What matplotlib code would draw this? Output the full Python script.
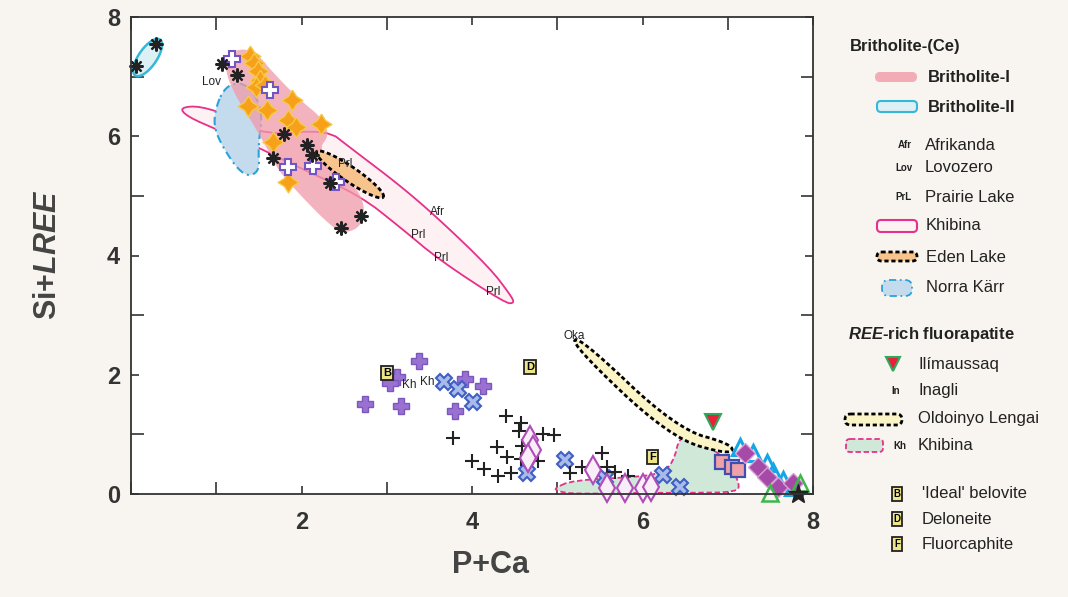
import numpy as np
import matplotlib
matplotlib.use("Agg")
import matplotlib.pyplot as plt
from matplotlib.patches import Polygon, FancyBboxPatch
from matplotlib.ticker import MultipleLocator

plt.rcParams['font.family'] = ['Liberation Sans', 'DejaVu Sans']
plt.rcParams['mathtext.fontset'] = 'custom'
plt.rcParams['mathtext.it'] = 'Liberation Sans:italic:bold'
plt.rcParams['mathtext.rm'] = 'Liberation Sans:bold'

# ---- britholite points
asterisk_x = [0.06, 0.29, 1.07, 1.24, 1.79, 2.06, 2.12, 1.67, 2.33, 2.70, 2.46]
asterisk_y = [7.18, 7.55, 7.21, 7.03, 6.04, 5.85, 5.68, 5.63, 5.22, 4.66, 4.46]
open_plus_x = [1.19, 1.63, 1.84, 2.13, 2.40]
open_plus_y = [7.30, 6.77, 5.49, 5.50, 5.24]
orange_x = [1.40, 1.44, 1.49, 1.51, 1.47, 1.57, 1.37, 1.59, 1.89, 1.84, 1.94, 2.23, 1.67, 1.84]
orange_y = [7.35, 7.23, 7.10, 6.95, 6.83, 6.86, 6.51, 6.44, 6.60, 6.28, 6.16, 6.21, 5.91, 5.24]

# ---- fluorapatite points
pplus_x = [3.38, 3.12, 3.04, 2.74, 3.17, 3.92, 4.13, 3.80]
pplus_y = [2.23, 1.96, 1.86, 1.51, 1.48, 1.93, 1.81, 1.39]
bluex_x = [3.67, 3.84, 4.01, 4.65, 5.09, 5.56, 6.24, 6.44]
bluex_y = [1.88, 1.76, 1.54, 0.35, 0.57, 0.27, 0.32, 0.12]
plus_x = [3.78, 4.40, 4.57, 4.55, 4.59, 4.83, 4.96, 4.29, 4.41, 4.57, 4.77, 4.00,
          4.14, 4.30, 4.46, 5.52, 5.29, 5.15, 5.58, 5.68, 5.83]
plus_y = [0.94, 1.31, 1.19, 1.06, 0.81, 1.01, 0.99, 0.79, 0.62, 0.59, 0.55, 0.55,
          0.42, 0.30, 0.35, 0.68, 0.45, 0.35, 0.45, 0.37, 0.30]
odiam_x = [4.68, 4.72, 4.66, 5.42, 5.58, 5.80, 6.00, 6.10]
odiam_y = [0.91, 0.74, 0.60, 0.40, 0.10, 0.10, 0.10, 0.12]
square_x = [6.93, 7.05, 7.12]
square_y = [0.54, 0.45, 0.40]
mdiam_x = [7.20, 7.35, 7.46, 7.59, 7.77]
mdiam_y = [0.69, 0.45, 0.29, 0.12, 0.18]
ctri_x = [7.14, 7.30, 7.46, 7.53, 7.65, 7.77]
ctri_y = [0.79, 0.69, 0.52, 0.37, 0.23, 0.12]
gtri_x = [7.50, 7.85]
gtri_y = [0.02, 0.18]
star_xy = (7.82, 0.0)
ilim_xy = (6.83, 1.21)
boxes = {'B': (3.00, 2.03), 'D': (4.68, 2.13), 'F': (6.12, 0.62)}

# ---- fields (outlines in data units)
brith1 = [(1.14, 7.42), (1.42, 7.48), (1.69, 7.03), (1.98, 6.61), (2.24, 6.31), (2.33, 6.02),
          (2.19, 5.77), (2.51, 5.35), (2.74, 4.93), (2.72, 4.51), (2.51, 4.36), (2.33, 4.51),
          (1.98, 5.02), (1.72, 5.44), (1.61, 5.77), (1.40, 6.28), (1.22, 6.69), (1.10, 7.11)]
khib_brith = [(0.57, 6.48), (0.81, 6.51), (1.22, 6.31), (1.57, 6.02), (2.30, 6.11), (2.57, 5.81),
              (3.16, 5.17), (3.62, 4.60), (4.21, 3.79), (4.45, 3.34), (4.50, 3.20), (4.39, 3.20),
              (3.62, 3.92), (3.16, 4.47), (2.69, 5.00), (1.98, 5.47), (1.48, 5.82), (1.01, 6.11),
              (0.66, 6.33)]
norra = [(1.10, 6.86), (0.96, 6.33), (1.02, 5.94), (1.31, 5.32), (1.51, 5.39), (1.49, 5.82),
         (1.55, 6.44), (1.36, 6.90)]
khib_apat = [(4.97, 0.10), (5.18, 0.23), (5.97, 0.29), (6.21, 0.35), (6.36, 0.52), (6.44, 0.99),
             (6.64, 0.91), (6.83, 0.74), (6.99, 0.57), (7.14, 0.18), (7.11, 0.03), (6.56, 0.02),
             (5.97, 0.02), (5.18, 0.00), (5.00, 0.05)]
brith2_ends = [(0.05, 7.02), (0.34, 7.62)]
eden_ends = [(2.18, 5.74), (2.96, 4.98)]
oldo_x = [5.21, 6.36, 7.05]
oldo_y = [2.58, 1.02, 0.74]

labels = [('Lov', 0.94, 6.91), ('Prl', 2.51, 5.54), ('Afr', 3.59, 4.73), ('Prl', 3.37, 4.35),
          ('Prl', 3.64, 3.96), ('Prl', 4.25, 3.39), ('Kh', 3.26, 1.83), ('Kh', 3.48, 1.88),
          ('Oka', 5.20, 2.65)]

SX, SY = 85.25, 59.6  # px per data unit, used to keep shapes round on screen

# fat four-pointed star for the orange symbols
r_in = 0.55
star4 = [(0, 1), (r_in * 0.707, r_in * 0.707), (1, 0), (r_in * 0.707, -r_in * 0.707),
         (0, -1), (-r_in * 0.707, -r_in * 0.707), (-1, 0), (-r_in * 0.707, r_in * 0.707), (0, 1)]


def smooth(pts, n=3):
    p = np.asarray(pts, float)
    for _ in range(n):
        q = np.roll(p, -1, axis=0)
        p = np.column_stack([0.75 * p + 0.25 * q, 0.25 * p + 0.75 * q]).reshape(-1, 2)
    return p


def ellipse(p0, p1, w, n=80):
    x0, y0, x1, y1 = p0[0] * SX, p0[1] * SY, p1[0] * SX, p1[1] * SY
    cx, cy = (x0 + x1) / 2, (y0 + y1) / 2
    a = np.hypot(x1 - x0, y1 - y0) / 2
    ang = np.arctan2(y1 - y0, x1 - x0)
    t = np.linspace(0, 2 * np.pi, n)
    ex = cx + a * np.cos(t) * np.cos(ang) - w / 2 * np.sin(t) * np.sin(ang)
    ey = cy + a * np.cos(t) * np.sin(ang) + w / 2 * np.sin(t) * np.cos(ang)
    return np.column_stack([ex / SX, ey / SY])


def band(xs, ys, w):
    p = np.column_stack([np.array(xs) * SX, np.array(ys) * SY])
    nrm = []
    for i in range(len(p)):
        t = p[min(i + 1, len(p) - 1)] - p[max(i - 1, 0)]
        t = t / np.hypot(*t)
        nrm.append((-t[1], t[0]))
    nrm = np.array(nrm)
    up = p + nrm * w / 2
    lo = p - nrm * w / 2
    pts = np.vstack([up, lo[::-1]])
    pts = smooth(pts, 3)
    return np.column_stack([pts[:, 0] / SX, pts[:, 1] / SY])


fig = plt.figure(figsize=(10.68, 5.97), dpi=100)
fig.patch.set_facecolor('#f8f5f0')
ax = fig.add_axes([131 / 1068, 1 - 494 / 597, 682 / 1068, 477 / 597])
ax.set_facecolor('white')
ax.set_xlim(0, 8)
ax.set_ylim(0, 8)

# fields
ax.add_patch(Polygon(smooth(khib_brith, 2), closed=True, fc='#fdf1f3', ec='#e6318a', lw=1.3, zorder=1))
ax.add_patch(Polygon(smooth(norra, 3), closed=True, fc='#c4dbee', ec='#2aa3d8', lw=1.5,
                     ls=(0, (4, 2, 1, 2)), zorder=2))
ax.add_patch(Polygon(smooth(brith1, 3), closed=True, fc='#f09aa8', ec='none', alpha=0.75, zorder=3))
ax.add_patch(Polygon(ellipse(*brith2_ends, 18), closed=True, fc='#dcf0f6', ec='#35b8d8', lw=1.8, zorder=3))
ax.add_patch(Polygon(ellipse(*eden_ends, 15), closed=True, fc='#f6c48c', ec='black', lw=2,
                     ls=(0, (1.5, 1)), zorder=4))
ax.add_patch(Polygon(smooth(khib_apat, 2), closed=True, fc='#cfe8d8', ec='#e6318a', lw=1.3,
                     ls=(0, (3, 1.5)), zorder=2))
ax.add_patch(Polygon(band(oldo_x, oldo_y, 11), closed=True, fc='#fbf4c6', ec='black', lw=2,
                     ls=(0, (1.5, 1)), zorder=3))

mk = dict(ls='none', clip_on=False)
# britholite markers
ax.plot(orange_x, orange_y, marker=star4, ms=15, mfc='#f7a11a', mec='#f6c94a', mew=1, zorder=6, **mk)
ax.plot(open_plus_x, open_plus_y, marker='P', ms=12, mfc='white', mec='#7254c2', mew=1.5, zorder=7, **mk)
ax.plot(asterisk_x, asterisk_y, marker=(8, 2, 0), ms=10, mec='#222222', mew=1.6, zorder=7, **mk)

# fluorapatite markers
ax.plot(pplus_x, pplus_y, marker='P', ms=11, mfc='#9a70d0', mec='#7a58be', mew=1, zorder=6, **mk)
ax.plot(bluex_x, bluex_y, marker='X', ms=11, mfc='#a9bbe9', mec='#3f5fc4', mew=1.5, zorder=6, **mk)
ax.plot(plus_x, plus_y, marker='+', ms=10, mec='#222222', mew=1.5, zorder=6, **mk)
ax.plot(odiam_x, odiam_y, marker='d', ms=14, mfc='#f8eef8', mec='#b04cb8', mew=1.5, zorder=6, **mk)
ax.plot(ctri_x, ctri_y, marker='^', ms=12, mfc='none', mec='#14a6e6', mew=2.2, zorder=6, **mk)
ax.plot(square_x, square_y, marker='s', ms=10, mfc='#f0a0a8', mec='#3f4fb0', mew=1.6, zorder=7, **mk)
ax.plot(mdiam_x, mdiam_y, marker='D', ms=10, mfc='#a64aa8', mec='#d9a0d8', mew=1, zorder=7, **mk)
ax.plot(gtri_x, gtri_y, marker='^', ms=12, mfc='none', mec='#3cb84a', mew=1.8, zorder=7, **mk)
ax.plot(*star_xy, marker='*', ms=15, mfc='#222222', mec='#222222', zorder=8, **mk)
ax.plot(*ilim_xy, marker='v', ms=11, mfc='#e8203a', mec='#2ea85a', mew=1.5, zorder=7, **mk)

for k, (bx, by) in boxes.items():
    ax.text(bx, by, k, ha='center', va='center', fontsize=8, fontweight='bold', zorder=8,
            bbox=dict(boxstyle='square,pad=0.2', fc='#eee58a', ec='#222222', lw=1.3))

for s, lx, ly in labels:
    ax.text(lx, ly, s, ha='center', va='center', fontsize=8.5, zorder=9, color='#222222')

# axes styling
ax.xaxis.set_minor_locator(MultipleLocator(1))
ax.yaxis.set_minor_locator(MultipleLocator(1))
ax.tick_params(which='both', direction='in', top=True, right=True, width=1.2, color='#333333')
ax.tick_params(which='major', length=6, labelsize=17)
ax.tick_params(which='minor', length=9)
ax.tick_params(axis='x', pad=12)
ax.tick_params(axis='y', pad=8)
ax.set_xticks([2, 4, 6, 8])
ax.set_yticks([0, 2, 4, 6, 8])
for t in ax.get_xticklabels() + ax.get_yticklabels():
    t.set_fontweight('bold')
    t.set_color('#333333')
for sp in ax.spines.values():
    sp.set_linewidth(1.3)
    sp.set_color('#333333')
    sp.set_zorder(10)

fig.text(490 / 1068, 1 - 565 / 597, 'P+Ca', ha='center', va='center', fontsize=22,
         fontweight='bold', color='#444444')
fig.text(48 / 1068, 1 - 255 / 597, 'Si+$\\mathit{LREE}$', ha='center', va='center', fontsize=22,
         fontweight='bold', rotation=90, color='#444444')

# ---- legend in pixel coordinates
lg = fig.add_axes([0, 0, 1, 1], zorder=-1)
lg.set_xlim(0, 1068)
lg.set_ylim(597, 0)
lg.axis('off')
fs = 12
lg.text(850, 47, 'Britholite-(Ce)', fontsize=fs, fontweight='bold', va='center', color='#222222')
lg.add_patch(FancyBboxPatch((875, 72), 42, 10, boxstyle='round,pad=0,rounding_size=5',
                            fc='#f09aa8', ec='none', alpha=0.8))
lg.text(928, 77, 'Britholite-I', fontsize=fs, fontweight='bold', va='center', color='#222222')
lg.add_patch(FancyBboxPatch((877, 101), 40, 11, boxstyle='round,pad=0,rounding_size=4',
                            fc='#dcf0f6', ec='#35b8d8', lw=1.5))
lg.text(928, 107, 'Britholite-II', fontsize=fs, fontweight='bold', va='center', color='#222222')
for ab, nm, yy in [('Afr', 'Afrikanda', 145), ('Lov', 'Lovozero', 168), ('PrL', 'Prairie Lake', 197)]:
    lg.text(912, yy, ab, fontsize=7, fontweight='bold', ha='right', va='center', color='#222222')
    lg.text(925, yy, nm, fontsize=fs, va='center', color='#222222')
lg.add_patch(FancyBboxPatch((877, 220), 40, 12, boxstyle='round,pad=0,rounding_size=4',
                            fc='#fdf1f3', ec='#e6318a', lw=1.5))
lg.text(926, 225, 'Khibina', fontsize=fs, va='center', color='#222222')
lg.add_patch(FancyBboxPatch((877, 252), 40, 9, boxstyle='round,pad=0,rounding_size=4.5',
                            fc='#f6c48c', ec='black', lw=2, ls=(0, (1.5, 1))))
lg.text(926, 257, 'Eden Lake', fontsize=fs, va='center', color='#222222')
lg.add_patch(FancyBboxPatch((882, 280), 30, 16, boxstyle='round,pad=0,rounding_size=7',
                            fc='#c4dbee', ec='#2aa3d8', lw=1.3, ls=(0, (4, 2, 1, 2))))
lg.text(926, 288, 'Norra Kärr', fontsize=fs, va='center', color='#222222')

lg.text(848, 334, '$\\mathit{REE}$-rich fluorapatite', fontsize=fs, fontweight='bold', va='center',
        color='#222222')
lg.plot(893, 364, marker='v', ms=10, mfc='#e8203a', mec='#2ea85a', mew=1.5)
lg.text(918, 364, 'Ilímaussaq', fontsize=fs, va='center', color='#222222')
lg.text(900, 391, 'In', fontsize=7, fontweight='bold', ha='right', va='center', color='#222222')
lg.text(918, 391, 'Inagli', fontsize=fs, va='center', color='#222222')
lg.add_patch(FancyBboxPatch((845, 414), 57, 11, boxstyle='round,pad=0,rounding_size=5.5',
                            fc='#fbf4c6', ec='black', lw=2, ls=(0, (1.5, 1))))
lg.text(918, 419, 'Oldoinyo Lengai', fontsize=fs, va='center', color='#222222')
lg.add_patch(FancyBboxPatch((846, 439), 37, 13, boxstyle='round,pad=0,rounding_size=4',
                            fc='#cfe8d8', ec='#e6318a', lw=1.3, ls=(0, (3, 1.5))))
lg.text(900, 446, 'Kh', fontsize=7, fontweight='bold', ha='center', va='center', color='#222222')
lg.text(918, 446, 'Khibina', fontsize=fs, va='center', color='#222222')
for k, nm, yy in [('B', "'Ideal' belovite", 494), ('D', 'Deloneite', 519), ('F', 'Fluorcaphite', 544)]:
    lg.text(897, yy, k, ha='center', va='center', fontsize=7, fontweight='bold',
            bbox=dict(boxstyle='square,pad=0.2', fc='#eee58a', ec='#222222', lw=1.3))
    lg.text(922, yy, nm, fontsize=fs, va='center', color='#222222')

fig.savefig('out.png', dpi=100, facecolor=fig.get_facecolor())
